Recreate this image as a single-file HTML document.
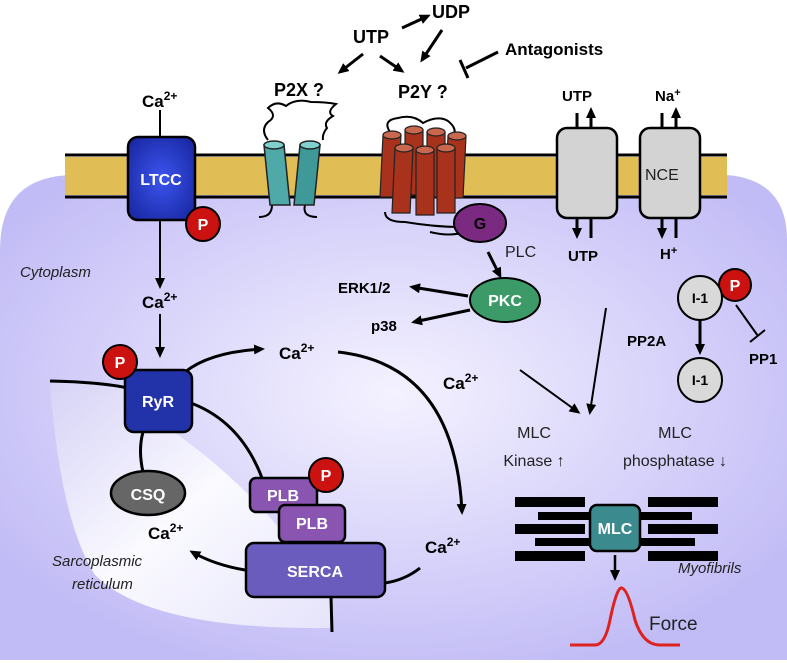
<!DOCTYPE html><html><head><style>body{margin:0;background:#fff}svg{display:block}text{font-family:"Liberation Sans",sans-serif}</style></head><body>
<svg width="787" height="663" viewBox="0 0 787 663" xmlns="http://www.w3.org/2000/svg">
<defs>
<radialGradient id="cyt" cx="0.5" cy="0.45" r="0.6"><stop offset="0" stop-color="#f4f2ff"/><stop offset="1" stop-color="#c2bcf6"/></radialGradient>
<linearGradient id="sr" x1="0" y1="0" x2="1" y2="1"><stop offset="0" stop-color="#d6d2f6"/><stop offset="0.5" stop-color="#fafaff"/><stop offset="1" stop-color="#e6e4fb"/></linearGradient>
<radialGradient id="blue" cx="0.5" cy="0.5" r="0.6"><stop offset="0" stop-color="#3b55ee"/><stop offset="1" stop-color="#1b2aa8"/></radialGradient>
<marker id="ah" markerWidth="11" markerHeight="10" refX="8" refY="5" orient="auto" markerUnits="userSpaceOnUse"><path d="M0,0 L11,5 L0,10 Z" fill="#000"/></marker>
</defs>
<path d="M0,660 L0,250 Q0,175 75,175 L727,175 Q787,180 787,240 L787,660 Z" fill="url(#cyt)"/>
<path d="M50,382 Q100,383 125,388 L125,400 Q260,480 330,600 L330,628 Q150,630 95,575 Q60,520 50,382 Z" fill="url(#sr)"/>
<rect x="65" y="157" width="662" height="38" fill="#e0bd55"/>
<line x1="65" y1="155" x2="727" y2="155" stroke="#000" stroke-width="3"/><line x1="65" y1="197" x2="727" y2="197" stroke="#000" stroke-width="3"/>
<g stroke="#000" stroke-width="2" fill="none">
<line x1="160" y1="110" x2="160" y2="138"/>
<line x1="160" y1="220" x2="160" y2="286" marker-end="url(#ah)"/>
<line x1="160" y1="314" x2="160" y2="355" marker-end="url(#ah)"/>
<path d="M50,381 Q100,382 128,388" stroke-width="3"/>
<path d="M188,402 Q240,420 262,478" stroke-width="3"/>
<path d="M143,432 Q138,450 143,472" stroke-width="3"/>
<line x1="293" y1="512" x2="300" y2="505" stroke-width="3"/>
<line x1="331" y1="597" x2="332" y2="632" stroke-width="3"/>
<path d="M185,372 Q210,352 262,349" stroke-width="3" marker-end="url(#ah)"/>
<path d="M338,352 Q455,365 462,512" stroke-width="3" marker-end="url(#ah)"/>
<path d="M245,570 Q215,565 192,552" stroke-width="3" marker-end="url(#ah)"/>
<path d="M385,583 Q405,580 420,568" stroke-width="3"/>
<line x1="402" y1="28" x2="428" y2="16" stroke-width="3" marker-end="url(#ah)"/>
<line x1="442" y1="30" x2="422" y2="60" stroke-width="3" marker-end="url(#ah)"/>
<line x1="363" y1="54" x2="340" y2="72" stroke-width="3" marker-end="url(#ah)"/>
<line x1="380" y1="56" x2="402" y2="71" stroke-width="3" marker-end="url(#ah)"/>
<line x1="498" y1="52" x2="466" y2="68" stroke-width="3"/><line x1="460" y1="60" x2="468" y2="78" stroke-width="3"/>
<line x1="488" y1="252" x2="500" y2="276" stroke-width="3" marker-end="url(#ah)"/>
<line x1="468" y1="296" x2="412" y2="287" stroke-width="3" marker-end="url(#ah)"/>
<line x1="470" y1="310" x2="414" y2="322" stroke-width="3" marker-end="url(#ah)"/>
<line x1="577" y1="113" x2="577" y2="128" stroke-width="3"/><line x1="591" y1="128" x2="591" y2="110" stroke-width="3" marker-end="url(#ah)"/>
<line x1="577" y1="218" x2="577" y2="236" stroke-width="3" marker-end="url(#ah)"/><line x1="591" y1="218" x2="591" y2="238" stroke-width="3"/>
<line x1="662" y1="113" x2="662" y2="128" stroke-width="3"/><line x1="676" y1="128" x2="676" y2="110" stroke-width="3" marker-end="url(#ah)"/>
<line x1="662" y1="218" x2="662" y2="236" stroke-width="3" marker-end="url(#ah)"/><line x1="676" y1="218" x2="676" y2="238" stroke-width="3"/>
<line x1="700" y1="320" x2="700" y2="352" stroke-width="3" marker-end="url(#ah)"/>
<line x1="736" y1="305" x2="758" y2="336" stroke-width="2"/><line x1="750" y1="342" x2="765" y2="330" stroke-width="2"/>
<line x1="520" y1="370" x2="578" y2="412" marker-end="url(#ah)"/>
<line x1="606" y1="308" x2="590" y2="412" marker-end="url(#ah)"/>
<line x1="615" y1="555" x2="615" y2="578" stroke-width="2.5" marker-end="url(#ah)"/>
<path d="M268,140 q-8,-10 0,-18 q10,-6 0,-14 q8,-8 18,-2 q10,-8 25,-4 q15,0 25,2 q-10,8 -3,12 q-10,6 -6,12 q-5,6 -4,12"/>
<path d="M272,205 q0,12 -13,12"/><path d="M305,205 q-3,12 12,12"/>
<path d="M390,132 q-8,-12 8,-14 q15,-4 25,5 q15,-8 25,-2 q10,8 5,15"/>
<path d="M385,212 q0,10 20,10 q30,5 55,5 M430,232 q20,5 35,0"/>
</g>
<g stroke="#222" stroke-width="1.5"><path d="M264,145 l20,0 l6,60 l-20,0 Z" fill="#4fa9a8"/><ellipse cx="274" cy="145" rx="10" ry="4" fill="#7fd0cf"/>
<path d="M300,145 l20,0 l-6,60 l-20,0 Z" fill="#3f9998"/><ellipse cx="310" cy="145" rx="10" ry="4" fill="#7fd0cf"/></g>
<g stroke="#222" stroke-width="1.2" fill="#a8321c">
<path d="M383,135 h18 l-3,62 h-18 Z"/><ellipse cx="392" cy="135" rx="9" ry="4" fill="#c9674f"/>
<path d="M405,130 h18 v65 h-18 Z"/><ellipse cx="414" cy="130" rx="9" ry="4" fill="#c9674f"/>
<path d="M427,132 h18 v65 h-18 Z"/><ellipse cx="436" cy="132" rx="9" ry="4" fill="#c9674f"/>
<path d="M448,136 h18 l-3,62 h-18 Z"/><ellipse cx="457" cy="136" rx="9" ry="4" fill="#c9674f"/>
<path d="M395,148 h18 l-3,65 h-18 Z"/><ellipse cx="404" cy="148" rx="9" ry="4" fill="#c9674f"/>
<path d="M416,150 h18 v65 h-18 Z"/><ellipse cx="425" cy="150" rx="9" ry="4" fill="#c9674f"/>
<path d="M437,148 h18 v65 h-18 Z"/><ellipse cx="446" cy="148" rx="9" ry="4" fill="#c9674f"/>
</g>
<ellipse cx="480" cy="223" rx="26" ry="19" fill="#7a2a80" stroke="#000" stroke-width="2"/>
<ellipse cx="505" cy="300" rx="35" ry="22" fill="#3c9a68" stroke="#000" stroke-width="2"/>
<rect x="557" y="128" width="60" height="90" rx="10" fill="#d3d3d3" stroke="#000" stroke-width="2.5"/>
<rect x="640" y="128" width="60" height="90" rx="10" fill="#d3d3d3" stroke="#000" stroke-width="2.5"/>
<rect x="128" y="137" width="67" height="83" rx="10" fill="url(#blue)" stroke="#000" stroke-width="2.5"/>
<rect x="125" y="370" width="67" height="62" rx="9" fill="#2232a8" stroke="#000" stroke-width="2.5"/>
<ellipse cx="148" cy="493" rx="37" ry="22" fill="#666" stroke="#000" stroke-width="2.5"/>
<rect x="250" y="478" width="67" height="34" rx="6" fill="#8a55b0" stroke="#000" stroke-width="2.5"/>
<rect x="279" y="505" width="66" height="37" rx="6" fill="#8a55b0" stroke="#000" stroke-width="2.5"/>
<rect x="246" y="543" width="139" height="54" rx="8" fill="#6a5cbc" stroke="#000" stroke-width="2.5"/>
<g fill="#cc1111" stroke="#000" stroke-width="2"><circle cx="203" cy="224" r="17"/><circle cx="120" cy="362" r="17"/><circle cx="326" cy="475" r="17"/><circle cx="735" cy="285" r="16"/></g>
<g fill="#d9d9d9" stroke="#000" stroke-width="2"><circle cx="700" cy="298" r="22"/><circle cx="700" cy="380" r="22"/></g>
<g fill="#000"><rect x="515" y="497" width="70" height="10"/><rect x="538" y="512" width="52" height="8"/><rect x="515" y="524" width="70" height="10"/><rect x="535" y="538" width="55" height="8"/><rect x="515" y="551" width="70" height="10"/>
<rect x="648" y="497" width="70" height="10"/><rect x="640" y="512" width="52" height="8"/><rect x="648" y="524" width="70" height="10"/><rect x="640" y="538" width="55" height="8"/><rect x="648" y="551" width="70" height="10"/></g>
<rect x="590" y="505" width="50" height="46" rx="7" fill="#3a8a8e" stroke="#000" stroke-width="2.5"/>
<path d="M570,645 L595,645 Q605,645 610,620 Q617,586 622,588 Q628,590 635,620 Q643,645 660,645 L680,645" fill="none" stroke="#dd2222" stroke-width="3"/>
<g font-weight="bold" font-size="17" fill="#000">
<text x="142" y="107">Ca<tspan font-size="12" dy="-7">2+</tspan></text>
<text x="142" y="308">Ca<tspan font-size="12" dy="-7">2+</tspan></text>
<text x="279" y="359">Ca<tspan font-size="12" dy="-7">2+</tspan></text>
<text x="443" y="389">Ca<tspan font-size="12" dy="-7">2+</tspan></text>
<text x="148" y="539">Ca<tspan font-size="12" dy="-7">2+</tspan></text>
<text x="425" y="553">Ca<tspan font-size="12" dy="-7">2+</tspan></text>
<text x="353" y="43" font-size="18">UTP</text>
<text x="432" y="18" font-size="18">UDP</text>
<text x="505" y="55">Antagonists</text>
<text x="274" y="96" font-size="18">P2X ?</text>
<text x="398" y="98" font-size="18">P2Y ?</text>
<text x="562" y="101" font-size="15">UTP</text>
<text x="568" y="261" font-size="15">UTP</text>
<text x="655" y="101" font-size="15">Na<tspan font-size="11" dy="-5">+</tspan></text>
<text x="660" y="259" font-size="15">H<tspan font-size="11" dy="-5">+</tspan></text>
<text x="338" y="293" font-size="15">ERK1/2</text>
<text x="371" y="331" font-size="15">p38</text>
<text x="627" y="346" font-size="15">PP2A</text>
<text x="749" y="364" font-size="15">PP1</text>
</g>
<g font-weight="bold" fill="#fff" font-size="16" text-anchor="middle">
<text x="161" y="185">LTCC</text><text x="158" y="407">RyR</text><text x="148" y="500">CSQ</text>
<text x="283" y="501">PLB</text><text x="312" y="529">PLB</text><text x="315" y="577">SERCA</text>
<text x="615" y="534">MLC</text>
<text x="203" y="230">P</text><text x="120" y="368">P</text><text x="326" y="481">P</text><text x="735" y="291">P</text>
<text x="505" y="306">PKC</text><text x="480" y="229" fill="#000">G</text>
</g>
<g font-size="14" fill="#000" text-anchor="middle" font-weight="bold"><text x="700" y="303">I-1</text><text x="700" y="385">I-1</text></g>
<g font-size="16" fill="#222"><text x="645" y="180">NCE</text><text x="505" y="257">PLC</text>
<text x="534" y="438" text-anchor="middle">MLC</text><text x="534" y="466" text-anchor="middle">Kinase ↑</text>
<text x="675" y="438" text-anchor="middle">MLC</text><text x="675" y="466" text-anchor="middle">phosphatase ↓</text>
<text x="649" y="630" font-size="19">Force</text></g>
<g font-style="italic" font-size="15" fill="#222"><text x="20" y="277">Cytoplasm</text><text x="52" y="566">Sarcoplasmic</text><text x="72" y="589">reticulum</text><text x="678" y="573">Myofibrils</text></g>
</svg></body></html>
